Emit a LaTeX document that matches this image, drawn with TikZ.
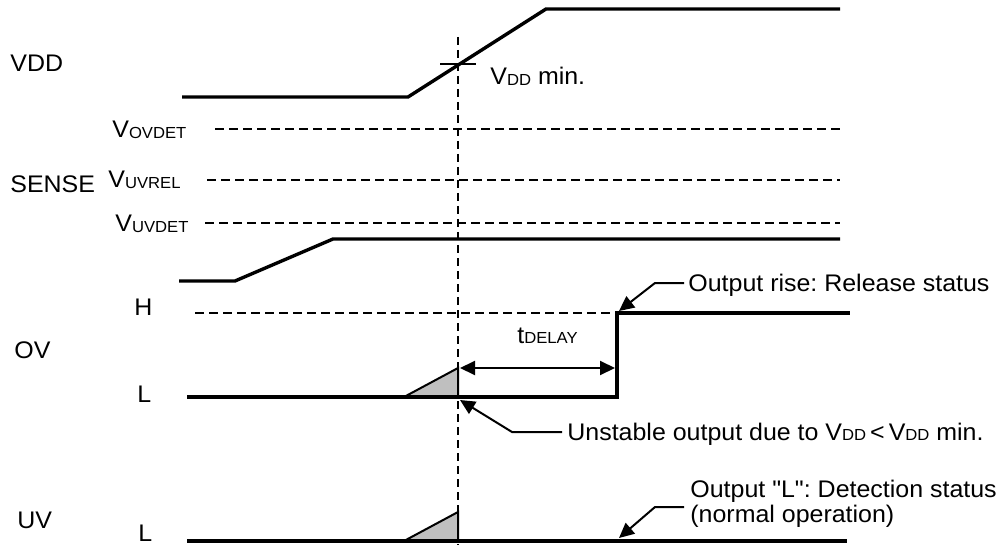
\documentclass[tikz,border=0pt]{standalone}
\usepackage{fontspec}
\setmainfont{Liberation Sans}[Ligatures=TeXOff, FakeStretch=1.04]
\usetikzlibrary{arrows.meta}
\newcommand{\sbs}[1]{\raisebox{-0.4pt}{\fontsize{8}{9}\selectfont #1}}
\frenchspacing
\begin{document}
\begin{tikzpicture}[x=0.5pt,y=-0.5pt,
  wave/.style={line width=1.7pt, line join=miter},
  refline/.style={line width=0.75pt, dash pattern=on 4.5pt off 2.5pt},
  vrefline/.style={line width=0.75pt, dash pattern=on 4pt off 2.5pt},
  lbl/.style={inner sep=0pt, anchor=base west, font=\fontsize{12}{14}\selectfont},
  lead/.style={line width=1pt, -{Triangle[length=7.5pt,width=7pt]}},
  dbl/.style={line width=1pt, {Triangle[length=7.5pt,width=7pt]}-{Triangle[length=7.5pt,width=7pt]}},
  tri/.style={fill=black!25, draw=black, line width=1pt, line join=miter}]
\useasboundingbox (0,0) rectangle (1000,545);

% signal labels
\node[lbl] (vdd) at (10,72) {VDD};
\node[lbl] (sense) at (10,193) {SENSE};
\node[lbl] (ov) at (14,358) {OV};
\node[lbl] (uv) at (17,528) {UV};

% level labels
\node[lbl] (vov) at (112,138) {V\sbs{OVDET}};
\node[lbl] (vuvrel) at (108,188) {V\sbs{UVREL}};
\node[lbl] (vuvdet) at (115,232) {V\sbs{UVDET}};
\node[lbl] (hlev) at (134,315) {H};
\node[lbl] (lov) at (137,402) {L};
\node[lbl] (luv) at (138,541) {L};

% vertical reference
\draw[vrefline] (458,37) -- (458,545);

% VDD
\draw[wave] (182,97) -- (408,97) -- (546,9) -- (840,9);
\draw[line width=0.7pt] (440,64) -- (476,64);
\node[lbl] (vddmin) at (490,85) {V\sbs{DD} min.};

% thresholds
\draw[refline] (215,129) -- (840,129);
\draw[refline] (207,180) -- (840,180);
\draw[refline] (205,223) -- (840,223);

% SENSE
\draw[wave] (179,281) -- (235,281) -- (333,239) -- (840,239);

% OV
\draw[refline] (195,313) -- (617,313);
\draw[tri] (404,397) -- (458,368) -- (458,397) -- cycle;
\draw[wave] (187,397) -- (617,397) -- (617,313) -- (850,313);
\coordinate (dA) at (460,368);
\coordinate (dB) at (615,368);
\draw[dbl] (dA) -- (dB);
\node[lbl] (tdelay) at (517,343) {t\sbs{DELAY}};

% UV
\draw[tri] (404,541) -- (458,512) -- (458,541) -- cycle;
\draw[wave] (187,541) -- (847,541);

% annotations
\node[lbl] (rise) at (688,291) {Output rise: Release status};
\coordinate (riseA) at (684,283);
\coordinate (riseB) at (655,283);
\coordinate (riseTip) at (619,311);
\draw[lead] (riseA) -- (riseB) -- (riseTip);

\node[lbl] (unst) at (567,440) {Unstable output due to V\sbs{DD}\,<\,V\sbs{DD} min.};
\coordinate (uA) at (562,432);
\coordinate (uB) at (512,432);
\coordinate (uTip) at (460,400);
\draw[lead] (uA) -- (uB) -- (uTip);

\node[lbl] (outl1) at (690,497) {Output "L": Detection status};
\node[lbl] (outl2) at (690,522) {(normal operation)};
\coordinate (oA) at (684,507);
\coordinate (oB) at (655,507);
\coordinate (oTip) at (619,538);
\draw[lead] (oA) -- (oB) -- (oTip);
\end{tikzpicture}
\end{document}
